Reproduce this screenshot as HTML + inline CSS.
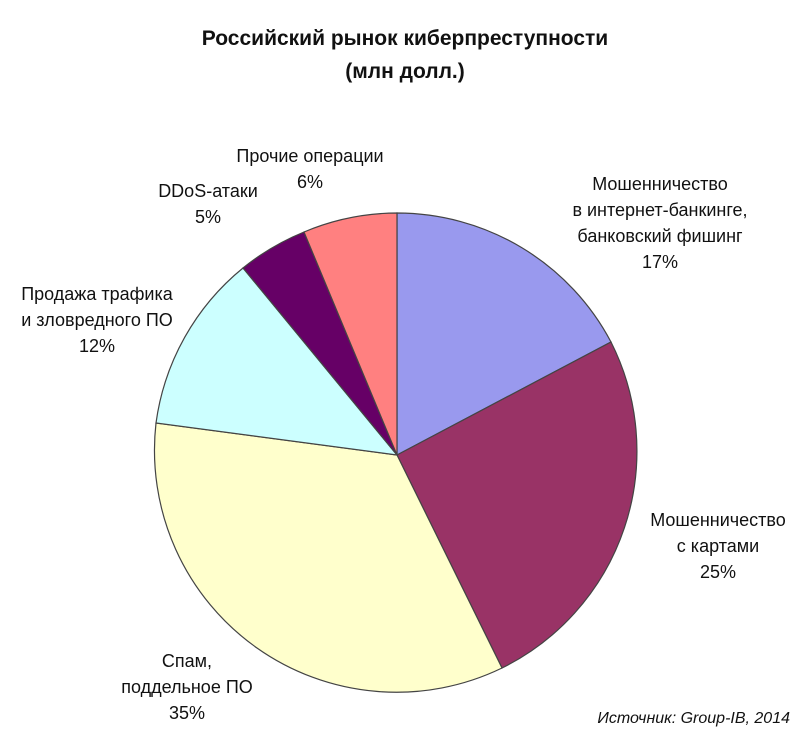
<!DOCTYPE html>
<html><head><meta charset="utf-8"><style>
body{margin:0;background:#fff;}
svg text{font-family:"Liberation Sans",sans-serif;fill:#111;}
</style></head><body>
<svg width="800" height="738" viewBox="0 0 800 738">
<text x="405" y="45" text-anchor="middle" font-size="21" font-weight="bold">Российский рынок киберпреступности</text>
<text x="405" y="78" text-anchor="middle" font-size="21" font-weight="bold">(млн долл.)</text>
<g stroke="#444" stroke-width="1.2">
<path d="M397,455 L397,213 A242,242 0 0 1 611,342 Z" fill="#9999ee"/>
<path d="M397,455 L611,342 A242,242 0 0 1 502,668 Z" fill="#993366"/>
<path d="M397,455 L502,668 A242,242 0 0 1 156,423 Z" fill="#ffffcc"/>
<path d="M397,455 L156,423 A242,242 0 0 1 243,268 Z" fill="#ccffff"/>
<path d="M397,455 L243,268 A242,242 0 0 1 304,232 Z" fill="#660066"/>
<path d="M397,455 L304,232 A242,242 0 0 1 397,213 Z" fill="#ff8080"/>
</g>
<g font-size="18" text-anchor="middle">
<text x="310" y="162">Прочие операции</text>
<text x="310" y="188">6%</text>
<text x="208" y="197">DDoS-атаки</text>
<text x="208" y="223">5%</text>
<text x="97" y="300">Продажа трафика</text>
<text x="97" y="326">и зловредного ПО</text>
<text x="97" y="352">12%</text>
<text x="660" y="190">Мошенничество</text>
<text x="660" y="216">в интернет-банкинге,</text>
<text x="660" y="242">банковский фишинг</text>
<text x="660" y="268">17%</text>
<text x="718" y="526">Мошенничество</text>
<text x="718" y="552">с картами</text>
<text x="718" y="578">25%</text>
<text x="187" y="667">Спам,</text>
<text x="187" y="693">поддельное ПО</text>
<text x="187" y="719">35%</text>
</g>
<text x="790" y="723" text-anchor="end" font-size="16" font-style="italic">Источник: Group-IB, 2014</text>
</svg>
</body></html>
